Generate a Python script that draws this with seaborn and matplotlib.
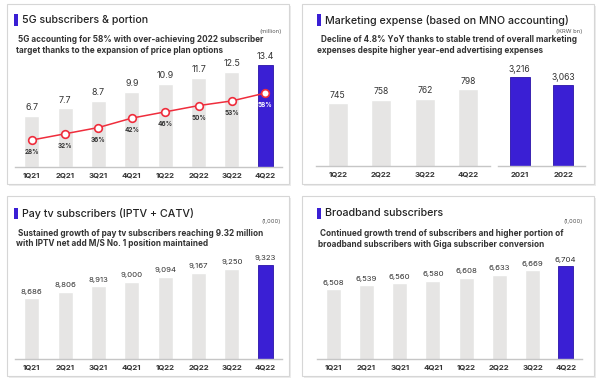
import numpy as np
import matplotlib
matplotlib.use("Agg")
import matplotlib.pyplot as plt
from matplotlib.patches import Rectangle
import seaborn as sns

###############################################################################
# Data
###############################################################################
quarters = ["1Q21", "2Q21", "3Q21", "4Q21", "1Q22", "2Q22", "3Q22", "4Q22"]
subs_5g = [6.7, 7.7, 8.7, 9.9, 10.9, 11.7, 12.5, 13.4]          # million
share_5g = [28, 32, 36, 42, 46, 50, 53, 58]                      # %
mkt_quarters = ["1Q22", "2Q22", "3Q22", "4Q22"]
mkt_quarterly = [745, 758, 762, 798]                             # KRW bn
mkt_years = ["2021", "2022"]
mkt_yearly = [3216, 3063]                                        # KRW bn
paytv_subs = [8686, 8806, 8913, 9000, 9094, 9167, 9250, 9323]    # 1,000
broadband_subs = [6508, 6539, 6560, 6580, 6608, 6633, 6669, 6704]  # 1,000

###############################################################################
# Style
###############################################################################
sns.set_style("white")
plt.rcParams["font.family"] = ["Inter", "DejaVu Sans"]

GRAY = "#e6e5e4"
PURPLE = "#3a1fd4"
RED = "#ef2d3c"
DARK = "#222222"
TEXT = "#333333"
W, H = 600, 384

fig = plt.figure(figsize=(6, 3.84), dpi=100)
fig.patch.set_facecolor("white")


def fx(x):
    return x / W


def fy(y):
    return 1 - y / H


def px_rect(x0, y0, x1, y1):
    return [x0 / W, 1 - y1 / H, (x1 - x0) / W, (y1 - y0) / H]


def card(x0, y0, x1, y1):
    # light shadow, then white card with thin gray border (behind the axes)
    fig.patches.append(Rectangle((fx(x0 + 2), fy(y1 + 2)), (x1 - x0) / W, (y1 - y0) / H,
                                 transform=fig.transFigure, facecolor="#ececec",
                                 edgecolor="none", zorder=-2))
    fig.patches.append(Rectangle((fx(x0), fy(y1)), (x1 - x0) / W, (y1 - y0) / H,
                                 transform=fig.transFigure, facecolor="white",
                                 edgecolor="#d6d6d6", linewidth=0.8, zorder=-1))


def header(x, y, title, sub_lines, sub_x, sub_y, unit, unit_x, unit_y):
    fig.patches.append(Rectangle((fx(x - 8), fy(y + 5.5)), 3.5 / W, 11 / H,
                                 transform=fig.transFigure, facecolor=PURPLE,
                                 edgecolor="none", zorder=2))
    fig.text(fx(x), fy(y), title, fontsize=7.7, color=DARK, ha="left", va="center",
             fontweight="medium")
    for i, line in enumerate(sub_lines):
        fig.text(fx(sub_x[i]), fy(sub_y + i * 10.8), line, fontsize=5.9, color=TEXT,
                 ha="left", va="center", fontweight="bold")
    fig.text(fx(unit_x), fy(unit_y), unit, fontsize=4.2, color="#555555",
             ha="right", va="center")


def bar_panel(rect, cats, vals, ylim, labels, colors, width, label_size=6.0):
    ax = fig.add_axes(px_rect(*rect))
    ax.set_facecolor("none")
    sns.barplot(x=cats, y=vals, hue=cats, palette=colors, width=width,
                saturation=1, legend=False, ax=ax, zorder=2)
    for patch, c in zip(ax.patches, colors):
        if c == PURPLE:
            patch.set_edgecolor("#2a12a8")
            patch.set_linewidth(0.6)
    ax.set_ylim(*ylim)
    ax.set_xlim(-0.5, len(cats) - 0.5)
    ax.set_yticks([])
    ax.set_xlabel("")
    ax.set_ylabel("")
    for s in ["left", "right", "top"]:
        ax.spines[s].set_visible(False)
    ax.spines["bottom"].set_color("#c6c6c6")
    ax.spines["bottom"].set_linewidth(1.0)
    ax.tick_params(axis="x", length=0, pad=4, labelsize=5.6, labelcolor=TEXT)
    for lbl in ax.get_xticklabels():
        lbl.set_fontweight("bold")
    for i, (v, lab) in enumerate(zip(vals, labels)):
        ax.annotate(lab, (i, v), xytext=(0, 2.5), textcoords="offset points",
                    ha="center", va="bottom", fontsize=label_size, color=TEXT,
                    annotation_clip=False)
    return ax


def highlight_last(n):
    return [GRAY] * (n - 1) + [PURPLE]


###############################################################################
# Cards
###############################################################################
card(7, 4, 289, 184)
card(302, 4, 594, 184)
card(7, 196, 289, 376)
card(302, 196, 594, 376)

###############################################################################
# 1) 5G subscribers & portion
###############################################################################
header(22, 20, "5G subscribers & portion",
       [" 5G accounting for 58% with over-achieving 2022 subscriber",
        "target thanks to the expansion of price plan options"],
       [16, 16], 40, "(million)", 282, 31)
ax1 = bar_panel((15, 55, 282, 167), quarters, subs_5g, (0, 14.7),
                [f"{v:.1f}" for v in subs_5g], highlight_last(8), 0.45, 6.4)

ax1b = ax1.twinx()
sns.lineplot(x=np.arange(len(share_5g)), y=share_5g, ax=ax1b, color=RED,
             linewidth=1.1, marker="o", markersize=5.5, markerfacecolor="white",
             markeredgecolor=RED, markeredgewidth=1.2, zorder=5)
ax1b.set_ylim(10.8, 82.3)
ax1b.set_yticks([])
ax1b.set_ylabel("")
for s in ["left", "right", "top", "bottom"]:
    ax1b.spines[s].set_visible(False)
for i, p in enumerate(share_5g):
    last = i == len(share_5g) - 1
    ax1b.annotate(f"{p}%", (i, p), xytext=(0, -6.5), textcoords="offset points",
                  ha="center", va="top", fontsize=4.6, fontweight="bold",
                  color="white" if last else TEXT)

###############################################################################
# 2) Marketing expense
###############################################################################
header(325, 20, "Marketing expense (based on MNO accounting)",
       ["Decline of 4.8% YoY thanks to stable trend of overall marketing",
        "expenses despite higher year-end advertising expenses"],
       [321, 317], 40, "(KRW bn)", 582, 32)
bar_panel((316, 54, 490, 166), mkt_quarters, mkt_quarterly, (507, 931),
          [f"{v:,}" for v in mkt_quarterly], [GRAY] * 4, 0.46, 6.2)
bar_panel((498, 54, 585, 166), mkt_years, mkt_yearly, (1511, 3665),
          [f"{v:,}" for v in mkt_yearly], [PURPLE] * 2, 0.46, 6.2)

###############################################################################
# 3) Pay tv subscribers
###############################################################################
header(22, 213.5, "Pay tv subscribers (IPTV + CATV)",
       [" Sustained growth of pay tv subscribers reaching 9.32 million",
        "with IPTV net add M/S No. 1 position maintained"],
       [16, 16], 233, "(1,000)", 281, 222)
bar_panel((15, 247, 282, 359), quarters, paytv_subs, (7520, 9661),
          [f"{v:,}" for v in paytv_subs], highlight_last(8), 0.45, 5.6)

###############################################################################
# 4) Broadband subscribers
###############################################################################
header(325, 213.5, "Broadband subscribers",
       [" Continued growth trend of subscribers and higher portion of",
        "broadband subscribers with Giga subscriber conversion"],
       [318, 318], 234, "(1,000)", 583, 222)
bar_panel((316.7, 247, 582.3, 359), quarters, broadband_subs, (5903, 6872),
          [f"{v:,}" for v in broadband_subs], highlight_last(8), 0.45, 5.6)

fig.savefig("out.png", dpi=100, facecolor="white")
